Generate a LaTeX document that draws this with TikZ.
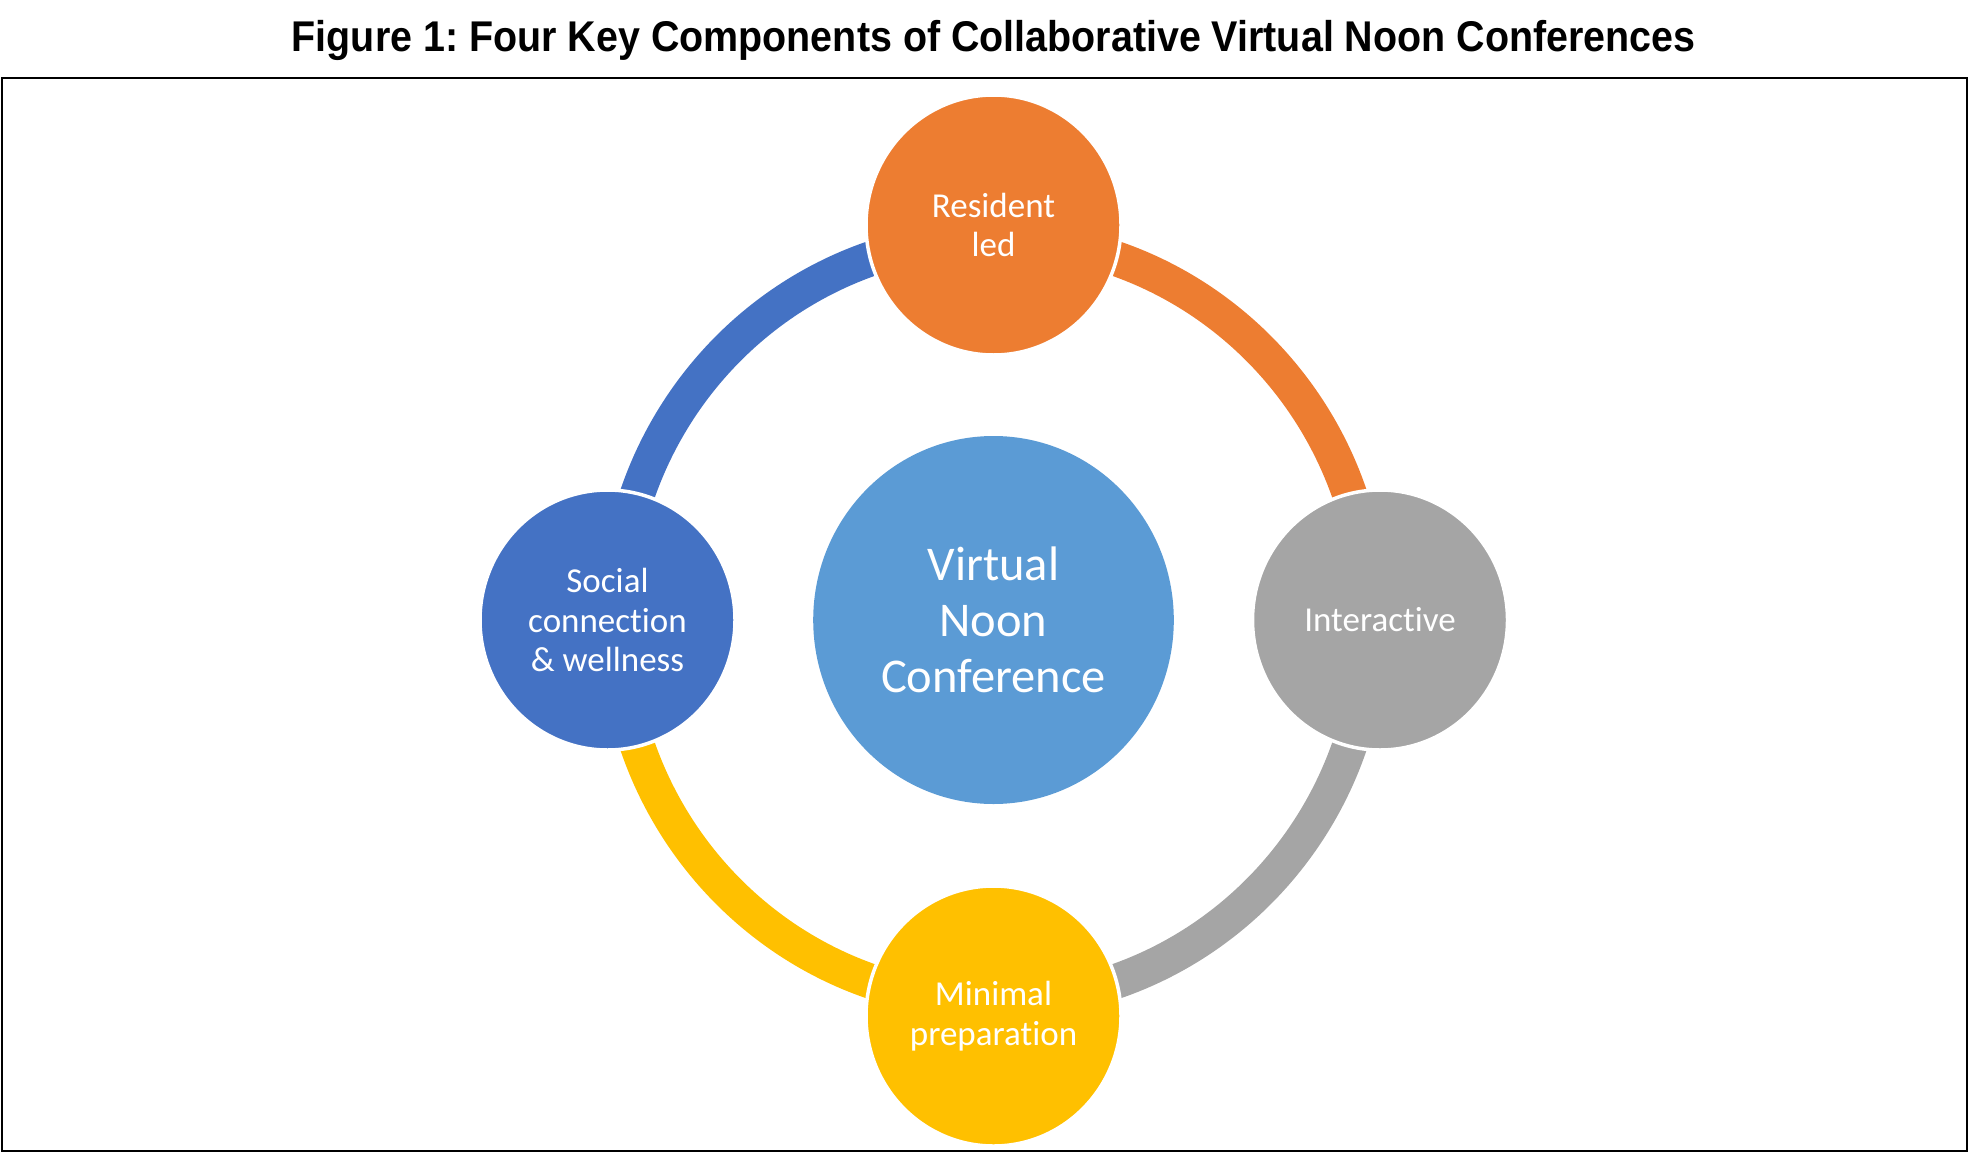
\documentclass[tikz,border=0pt]{standalone}
\usepackage{fontspec}
\setmainfont[Ligatures={NoCommon}]{Carlito}
\newfontfamily\titlefont[FakeStretch=0.917]{Liberation Sans}
\usetikzlibrary{shapes.geometric}
\definecolor{cOrange}{HTML}{ED7D31}
\definecolor{cGray}{HTML}{A5A5A5}
\definecolor{cYellow}{HTML}{FFC000}
\definecolor{cBlue}{HTML}{4472C4}
\definecolor{cCenter}{HTML}{5B9BD5}
\tikzset{
  sat/.style={ellipse, minimum width=255pt, minimum height=260pt, inner sep=0pt,
    draw=white, line width=3.5pt, text=white, align=center,
    font=\fontsize{35}{39.5}\selectfont},
  hub/.style={ellipse, minimum width=360.6pt, minimum height=368pt, inner sep=0pt,
    fill=cCenter, text=white, align=center, font=\fontsize{48.5}{56}\selectfont},
  ring/.style={line width=35pt},
  frame/.style={draw=black, line width=2pt}
}
\frenchspacing
\begin{document}
\begin{tikzpicture}[x=1pt, y=-1pt]
\useasboundingbox (0,0) rectangle (1969,1153);
\draw[frame] (2,78.3) rectangle (1966.7,1151);
\node[font=\titlefont\bfseries\fontsize{43}{50}\selectfont, anchor=base] (title) at (993.6,51.7)
  {Figure 1: Four Key Components of Collaborative Virtual Noon Conferences};
% ring points
\coordinate (rT) at (993.5,238);
\coordinate (rR) at (1370.5,620);
\coordinate (rB) at (993.5,1002);
\coordinate (rL) at (616.5,620);
\draw[ring, cOrange] (rT) arc[start angle=270, end angle=360, x radius=377, y radius=382];
\draw[ring, cGray] (rR) arc[start angle=0, end angle=90, x radius=377, y radius=382];
\draw[ring, cYellow] (rB) arc[start angle=90, end angle=180, x radius=377, y radius=382];
\draw[ring, cBlue] (rL) arc[start angle=180, end angle=270, x radius=377, y radius=382];
% nodes
\node[hub] (hub) at (993.5,620) {Virtual\\Noon\\Conference};
\node[sat, fill=cOrange] (res) at (993.5,225) {Resident\\led};
\node[sat, fill=cGray] (int) at (1380,620) {Interactive};
\node[sat, fill=cYellow] (min) at (993.5,1016) {Minimal\\preparation};
\node[sat, fill=cBlue] (soc) at (607.5,620) {Social\\connection\\\& wellness};
\end{tikzpicture}
\end{document}
